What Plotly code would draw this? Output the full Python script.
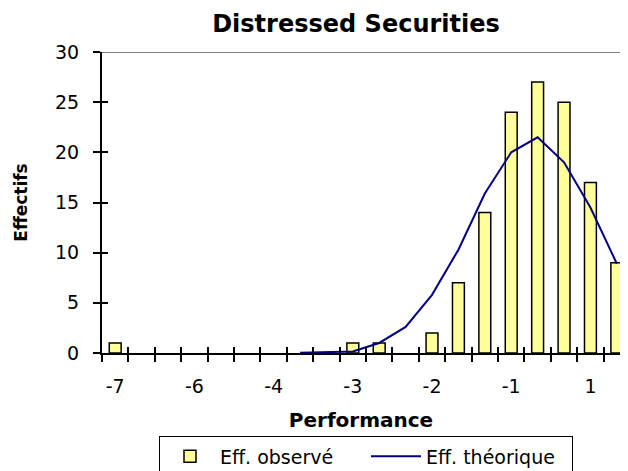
import plotly.graph_objects as go

# ---- data ----
categories = list(range(20))  # bin index along the performance axis
tick_positions = [0, 3, 6, 9, 12, 15, 18]
tick_labels = ["-7", "-6", "-4", "-3", "-2", "-1", "1"]
observed = [1, 0, 0, 0, 0, 0, 0, 0, 0, 1, 1, 0, 2, 7, 14, 24, 27, 25, 17, 9]
theoretical = [None, None, None, None, None, None, None, 0.02, 0.05, 0.15,
               1.0, 2.6, 5.8, 10.3, 15.9, 20.0, 21.5, 19.0, 14.5, 8.9]
y_ticks = [0, 5, 10, 15, 20, 25, 30]

FONT = "DejaVu Sans, Arial, Liberation Sans, sans-serif"
boundaries = [c - 0.5 for c in categories] + [categories[-1] + 0.5]
xr = [-0.5, 19.12]

fig = go.Figure()
fig.add_trace(go.Bar(
    x=categories, y=[v if v else None for v in observed], name="Eff. observé",
    marker=dict(color="#FFFF99", line=dict(color="black", width=1.5)),
))
fig.add_trace(go.Scatter(
    x=categories, y=theoretical, name="Eff. théorique", mode="lines",
    line=dict(color="#000080", width=2),
))
# empty helper trace so the overlay axes (inner tick marks) are drawn
fig.add_trace(go.Scatter(x=[None], y=[None], xaxis="x2", yaxis="y2",
                         showlegend=False, hoverinfo="skip"))

# the page adds an 8px body margin, so the figure is offset by 8px
fig.update_layout(
    width=612, height=471,
    margin=dict(l=94, r=0, t=44, b=126, autoexpand=False),
    paper_bgcolor="white", plot_bgcolor="white",
    font=dict(family=FONT, size=19, color="black"),
    bargap=0.55,
    showlegend=True,
    title=dict(text="<b>Distressed Securities</b>", x=348 / 612, xanchor="center",
               y=1 - 16 / 471, yanchor="middle", xref="container", yref="container",
               font=dict(family=FONT, size=24, color="black")),
    legend=dict(orientation="h", x=(358 - 94) / 518, xanchor="center", y=-0.277,
                yanchor="top",
                bordercolor="black", borderwidth=1, bgcolor="white",
                font=dict(family=FONT, size=19, color="black"),
                traceorder="normal", itemwidth=50, entrywidth=141),
    xaxis=dict(
        range=xr, tickmode="array", tickvals=tick_positions, ticktext=tick_labels,
        ticks="", showgrid=False, zeroline=False, automargin=False,
        showline=True, linecolor="black", linewidth=2,
        ticklabelstandoff=15,
        minor=dict(tickmode="array", tickvals=boundaries, ticks="outside",
                   ticklen=7, tickwidth=2, tickcolor="black", showgrid=False),
        title=dict(text="<b>Performance</b>", standoff=17,
                   font=dict(family=FONT, size=20, color="black")),
        fixedrange=True,
    ),
    xaxis2=dict(
        range=xr, overlaying="x", anchor="y", side="bottom", automargin=False,
        tickmode="array", tickvals=boundaries, ticks="inside", ticklen=6,
        tickwidth=2, tickcolor="black", showticklabels=False,
        showgrid=False, zeroline=False, showline=False,
    ),
    yaxis=dict(
        range=[0, 30], tickmode="array", tickvals=y_ticks, automargin=False,
        ticks="outside", ticklen=7, tickwidth=2, tickcolor="black",
        showgrid=False, zeroline=False,
        showline=True, linecolor="black", linewidth=2,
        ticklabelstandoff=10,
        title=dict(text="<b>Effectifs</b>", standoff=23,
                   font=dict(family=FONT, size=17, color="black")),
    ),
    yaxis2=dict(
        range=[0, 30], overlaying="y", anchor="x", side="left", automargin=False,
        tickmode="array", tickvals=y_ticks, ticks="inside", ticklen=6,
        tickwidth=2, tickcolor="black", showticklabels=False,
        showgrid=False, zeroline=False, showline=False,
    ),
    shapes=[dict(type="line", xref="x domain", yref="y", x0=0, x1=1,
                 y0=y_ticks[-1], y1=y_ticks[-1],
                 line=dict(color="#808080", width=2), layer="below")],
)

fig.write_html("out.html")
